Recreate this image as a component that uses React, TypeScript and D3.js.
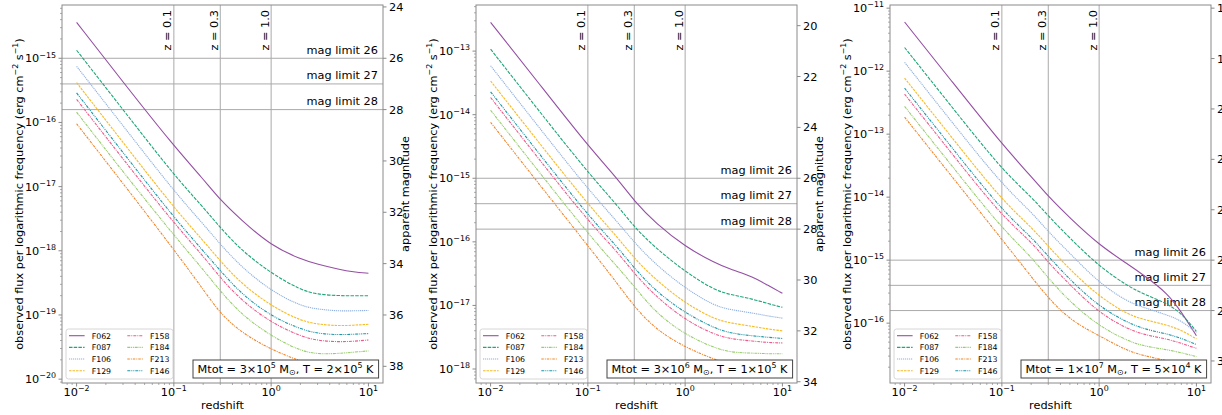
import React, { useEffect, useRef } from 'react';
import * as d3 from 'd3';

// redshift grid the curves were read at
const redshifts = [0.01, 0.03, 0.1, 0.2, 0.3, 0.5, 1, 2, 3, 5, 7, 10];

// plotting order (matplotlib legend fills column by column)
const filters = ['F062', 'F087', 'F106', 'F129', 'F158', 'F184', 'F213', 'F146'];
const filterColors = ['#944fa3', '#1fa67a', '#8fb0e0', '#f8bb26', '#ef5a8c', '#98cd6c', '#f0862a', '#1c97a8'];
const filterDashes = [null, '3.5,1.2', '1.2,0.8', '2.5,1', '3,1,1,1', '3,0.8,1,0.8,1,0.8', '2.5,1,1,1', '3,1,1,1,1,1'];

// log10 of observed flux, one row per filter (same order as `filters`)
// Mtot = 3e5 Msun, T = 2e5 K
const logFluxA = [
    [-14.44, -15.37, -16.37, -16.88, -17.21, -17.53, -17.92, -18.13, -18.21, -18.29, -18.33, -18.35],
    [-14.875, -15.80, -16.82, -17.32, -17.64, -18.00, -18.35, -18.61, -18.68, -18.70, -18.70, -18.70],
    [-15.125, -16.05, -17.07, -17.58, -17.90, -18.26, -18.625, -18.86, -18.91, -18.94, -18.935, -18.93],
    [-15.38, -16.31, -17.33, -17.84, -18.16, -18.52, -18.86, -19.09, -19.145, -19.17, -19.16, -19.145],
    [-15.64, -16.57, -17.57, -18.08, -18.42, -18.78, -19.12, -19.33, -19.40, -19.42, -19.41, -19.39],
    [-15.84, -16.77, -17.76, -18.29, -18.63, -19.00, -19.33, -19.56, -19.61, -19.60, -19.58, -19.56],
    [-16.02, -16.95, -17.98, -18.60, -18.98, -19.28, -19.54, -19.72, -19.80, -19.85, -19.87, -19.87],
    [-15.54, -16.47, -17.48, -18.00, -18.31, -18.68, -19.02, -19.22, -19.29, -19.31, -19.30, -19.29],
];
// Mtot = 3e6 Msun, T = 1e5 K
const logFluxB = [
    [-12.547, -13.47, -14.49, -15.00, -15.36, -15.71, -16.075, -16.33, -16.44, -16.55, -16.68, -16.81],
    [-12.97, -13.90, -14.91, -15.42, -15.77, -16.10, -16.47, -16.76, -16.835, -16.90, -16.97, -17.03],
    [-13.23, -14.16, -15.17, -15.68, -16.01, -16.36, -16.73, -17.01, -17.07, -17.12, -17.165, -17.20],
    [-13.47, -14.40, -15.41, -15.92, -16.26, -16.60, -16.965, -17.22, -17.28, -17.33, -17.37, -17.40],
    [-13.73, -14.66, -15.67, -16.15, -16.50, -16.86, -17.23, -17.46, -17.53, -17.56, -17.585, -17.59],
    [-13.93, -14.86, -15.87, -16.39, -16.70, -17.12, -17.46, -17.67, -17.74, -17.75, -17.76, -17.76],
    [-14.12, -15.05, -16.06, -16.65, -17.02, -17.38, -17.66, -17.85, -17.93, -17.97, -17.99, -18.00],
    [-13.64, -14.57, -15.58, -16.075, -16.415, -16.78, -17.12, -17.36, -17.44, -17.48, -17.50, -17.52],
];
// Mtot = 1e7 Msun, T = 5e4 K
const logFluxC = [
    [-11.22, -12.145, -13.16, -13.67, -13.99, -14.33, -14.76, -15.07, -15.26, -15.52, -15.82, -16.20],
    [-11.625, -12.55, -13.565, -13.99, -14.30, -14.65, -15.10, -15.42, -15.55, -15.69, -15.84, -16.13],
    [-11.86, -12.79, -13.80, -14.23, -14.55, -14.89, -15.365, -15.67, -15.76, -15.87, -15.96, -16.15],
    [-12.11, -13.035, -14.05, -14.47, -14.78, -15.15, -15.58, -15.87, -15.95, -16.03, -16.11, -16.25],
    [-12.365, -13.29, -14.305, -14.70, -15.04, -15.39, -15.84, -16.10, -16.19, -16.25, -16.32, -16.40],
    [-12.56, -13.485, -14.50, -14.94, -15.29, -15.66, -16.05, -16.29, -16.37, -16.42, -16.47, -16.53],
    [-12.73, -13.655, -14.67, -15.26, -15.60, -15.95, -16.20, -16.45, -16.52, -16.60, -16.64, -16.68],
    [-12.27, -13.195, -14.21, -14.63, -14.94, -15.31, -15.74, -16.00, -16.10, -16.17, -16.24, -16.34],
];

// axis limits (log10 flux) and ticks
const yLimitsA = [-20.06, -14.17];
const yLimitsB = [-18.22, -12.275];
const yLimitsC = [-16.95, -10.95];
const fluxTicksA = [-20, -19, -18, -17, -16, -15];
const fluxTicksB = [-18, -17, -16, -15, -14, -13];
const fluxTicksC = [-16, -15, -14, -13, -12, -11];
const magTicksA = [24, 26, 28, 30, 32, 34, 36, 38];
const magTicksB = [20, 22, 24, 26, 28, 30, 32, 34];
const magTicksC = [16, 18, 20, 22, 24, 26, 28, 30];
const xTickExps = [-2, -1, 0, 1];
const xLimits = [-2.15, 1.15];

const zMarkers = [0.1, 0.3, 1.0];
const zLabels = ['z = 0.1', 'z = 0.3', 'z = 1.0'];
const magLimits = [26, 27, 28];

const massCoef = ['3', '3', '1'];
const massExp = ['5', '6', '7'];
const tempCoef = ['2', '1', '5'];
const tempExp = ['5', '5', '4'];

// flux 1e-15 <-> magnitude 26
const magOf = (logF) => -11.5 - 2.5 * logF;

const FONT = 'DejaVu Sans';
const FS = 11.3;
const SPINE = '#8a8a8a';
const GRID = '#aaaaaa';

function addRich(text, parts, size) {
    let shift = 0;
    parts.forEach(([str, kind]) => {
        const target = kind === 'sup' ? -0.42 * size : kind === 'sub' ? 0.2 * size : 0;
        text.append('tspan')
            .attr('dy', target - shift)
            .attr('font-size', kind ? size * 0.7 : size)
            .text(str);
        shift = target;
    });
}

const expText = (k) => (k < 0 ? '\u2212' + Math.abs(k) : String(k));

function drawPanel(svg, idx, left, logFlux, yLim, fluxTicks, magTicks) {
    const plotW = 321;
    const right = left + plotW, top = 5, bottom = 383;
    const g = svg.append('g');

    const x = d3.scaleLog().domain([10 ** xLimits[0], 10 ** xLimits[1]]).range([left, right]);
    const y = d3.scaleLog().domain([10 ** yLim[0], 10 ** yLim[1]]).range([bottom, top]);
    const mag = d3.scaleLinear().domain([magOf(yLim[1]), magOf(yLim[0])]).range([top, bottom]);

    const clipId = `plotclip${idx}`;
    g.append('clipPath').attr('id', clipId)
        .append('rect').attr('x', left).attr('y', top).attr('width', plotW).attr('height', bottom - top);

    // redshift markers
    zMarkers.forEach((z, i) => {
        g.append('line')
            .attr('x1', x(z)).attr('x2', x(z)).attr('y1', top).attr('y2', bottom)
            .attr('stroke', GRID).attr('stroke-width', 1);
        g.append('text')
            .attr('transform', `translate(${x(z) - 2.5},10) rotate(-90)`)
            .attr('text-anchor', 'end')
            .attr('font-size', FS)
            .text(zLabels[i]);
    });

    // magnitude limits
    magLimits.forEach((m) => {
        g.append('line')
            .attr('x1', left).attr('x2', right).attr('y1', mag(m)).attr('y2', mag(m))
            .attr('stroke', GRID).attr('stroke-width', 1);
        g.append('text')
            .attr('x', right - 5).attr('y', mag(m) - 4.5)
            .attr('text-anchor', 'end')
            .attr('font-size', FS)
            .text(`mag limit ${m}`);
    });

    // curves
    const line = d3.line()
        .x((d) => x(d[0]))
        .y((d) => y(10 ** d[1]))
        .curve(d3.curveBasis);
    const curves = g.append('g').attr('clip-path', `url(#${clipId})`);
    logFlux.forEach((row, i) => {
        curves.append('path')
            .attr('d', line(redshifts.map((z, j) => [z, row[j]])))
            .attr('fill', 'none')
            .attr('stroke', filterColors[i])
            .attr('stroke-width', 1.1)
            .attr('stroke-dasharray', filterDashes[i]);
    });

    // frame
    g.append('rect')
        .attr('x', left).attr('y', top).attr('width', plotW).attr('height', bottom - top)
        .attr('fill', 'none').attr('stroke', SPINE).attr('stroke-width', 1);

    // x axis ticks
    xTickExps.forEach((k) => {
        const px = x(10 ** k);
        g.append('line').attr('x1', px).attr('x2', px).attr('y1', bottom).attr('y2', bottom + 3.5)
            .attr('stroke', SPINE);
        addRich(g.append('text').attr('x', px).attr('y', 396).attr('text-anchor', 'middle'),
            [['10'], [expText(k), 'sup']], FS);
    });
    for (let k = -3; k <= 1; k++) {
        for (let m = 2; m <= 9; m++) {
            const v = m * 10 ** k;
            if (v < 10 ** xLimits[0] || v > 10 ** xLimits[1]) continue;
            g.append('line').attr('x1', x(v)).attr('x2', x(v)).attr('y1', bottom).attr('y2', bottom + 2)
                .attr('stroke', SPINE).attr('stroke-width', 0.7);
        }
    }
    g.append('text')
        .attr('x', (left + right) / 2).attr('y', 408.5)
        .attr('text-anchor', 'middle').attr('font-size', FS)
        .text('redshift');

    // left (flux) axis
    fluxTicks.forEach((k) => {
        const py = y(10 ** k);
        g.append('line').attr('x1', left - 3.5).attr('x2', left).attr('y1', py).attr('y2', py)
            .attr('stroke', SPINE);
        addRich(g.append('text').attr('x', left - 6).attr('y', py + 4).attr('text-anchor', 'end'),
            [['10'], [expText(k), 'sup']], FS);
    });
    for (let k = Math.floor(yLim[0]); k <= Math.ceil(yLim[1]); k++) {
        for (let m = 2; m <= 9; m++) {
            const v = m * 10 ** k;
            if (v < 10 ** yLim[0] || v > 10 ** yLim[1]) continue;
            g.append('line').attr('x1', left - 2).attr('x2', left).attr('y1', y(v)).attr('y2', y(v))
                .attr('stroke', SPINE).attr('stroke-width', 0.7);
        }
    }
    const ylab = g.append('text')
        .attr('transform', `translate(${left - 39},${(top + bottom) / 2}) rotate(-90)`)
        .attr('text-anchor', 'middle');
    addRich(ylab, [
        ['observed flux per logarithmic frequency (erg cm'], ['\u22122', 'sup'], [' s'], ['\u22121', 'sup'], [')'],
    ], FS);

    // right (magnitude) axis
    magTicks.forEach((m) => {
        const py = mag(m);
        g.append('line').attr('x1', right).attr('x2', right + 3.5).attr('y1', py).attr('y2', py)
            .attr('stroke', SPINE);
        g.append('text').attr('x', right + 6).attr('y', py + 4).attr('font-size', FS).text(m);
    });
    g.append('text')
        .attr('transform', `translate(${right + 26},${(top + bottom) / 2}) rotate(-90)`)
        .attr('text-anchor', 'middle').attr('font-size', FS)
        .text('apparent magnitude');

    // legend
    const lg = g.append('g').attr('transform', `translate(${left + 4},${bottom - 54})`);
    lg.append('rect').attr('width', 107).attr('height', 50).attr('rx', 2.5)
        .attr('fill', 'white').attr('fill-opacity', 0.8).attr('stroke', '#cccccc').attr('stroke-width', 0.8);
    filters.forEach((f, i) => {
        const col = Math.floor(i / 4), row = i % 4;
        const x0 = 3 + col * 58.3, yy = 6.7 + row * 11.67;
        lg.append('line').attr('x1', x0).attr('x2', x0 + 15.6).attr('y1', yy).attr('y2', yy)
            .attr('stroke', filterColors[i]).attr('stroke-width', 1.1)
            .attr('stroke-dasharray', filterDashes[i]);
        lg.append('text').attr('x', x0 + 22.7).attr('y', yy + 2.9).attr('font-size', 7.8).text(f);
    });

    // parameter box
    const ann = g.append('text')
        .attr('x', right - 5 - 4.5).attr('y', bottom - 10.5)
        .attr('text-anchor', 'end');
    addRich(ann, [
        [`Mtot = ${massCoef[idx]}\u00d710`], [massExp[idx], 'sup'], [' M'], ['\u2299', 'sub'],
        [`, T = ${tempCoef[idx]}\u00d710`], [tempExp[idx], 'sup'], [' K'],
    ], FS);
    const bb = ann.node().getBBox();
    g.insert('rect', () => ann.node())
        .attr('x', bb.x - 4.5).attr('width', bb.width + 9)
        .attr('y', bottom - 5 - 18).attr('height', 18)
        .attr('fill', 'white').attr('stroke', '#444').attr('stroke-width', 1);
}

export default function App() {
    const ref = useRef(null);

    useEffect(() => {
        const svg = d3.select(ref.current);
        svg.selectAll('*').remove();
        drawPanel(svg, 0, 62, logFluxA, yLimitsA, fluxTicksA, magTicksA);
        drawPanel(svg, 1, 476, logFluxB, yLimitsB, fluxTicksB, magTicksB);
        drawPanel(svg, 2, 890, logFluxC, yLimitsC, fluxTicksC, magTicksC);
    }, []);

    return (
        <svg
            ref={ref}
            width={1222}
            height={415}
            fontFamily={FONT}
            style={{ position: 'absolute', left: 0, top: 0, background: '#fff' }}
        />
    );
}
